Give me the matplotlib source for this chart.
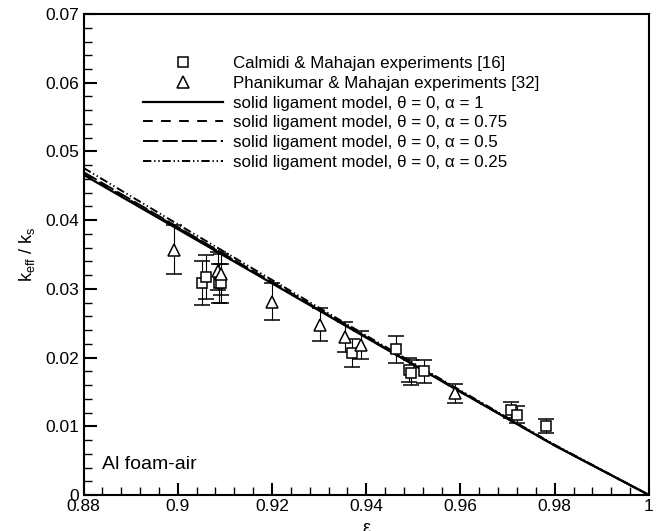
import matplotlib
matplotlib.use('Agg')
import matplotlib.pyplot as plt
from matplotlib.ticker import MultipleLocator
from matplotlib.lines import Line2D

plt.rcParams['font.family'] = ['Liberation Sans', 'DejaVu Sans']
plt.rcParams['lines.scale_dashes'] = False

# Calmidi & Mahajan experiments (squares)
cal_eps = [0.9052, 0.9061, 0.9087, 0.9092, 0.9369, 0.9463, 0.9491, 0.9494, 0.9522, 0.9708, 0.9720, 0.9782]
cal_k = [0.0308, 0.0317, 0.0308, 0.0308, 0.0207, 0.0212, 0.0182, 0.0178, 0.0180, 0.0124, 0.0117, 0.0100]
cal_err = [0.0032, 0.0032, 0.0028, 0.0028, 0.0020, 0.0020, 0.0018, 0.0018, 0.0017, 0.0012, 0.0012, 0.0010]

# Phanikumar & Mahajan experiments (triangles)
pha_eps = [0.8991, 0.9085, 0.9091, 0.9201, 0.9302, 0.9354, 0.9388, 0.9588]
pha_k = [0.0357, 0.0326, 0.0321, 0.0281, 0.0248, 0.0230, 0.0218, 0.0148]
pha_err = [0.0036, 0.0028, 0.0030, 0.0027, 0.0024, 0.0022, 0.0020, 0.0014]

# solid ligament model curves
model_eps = [0.88, 0.90, 0.92, 0.94, 0.96, 0.98, 1.0]
k_a100 = [0.0466, 0.0387, 0.0308, 0.0229, 0.0150, 0.0072, 0.0]
k_a075 = [0.0468, 0.0389, 0.0309, 0.0230, 0.0150, 0.0072, 0.0]
k_a050 = [0.0470, 0.0390, 0.0310, 0.0230, 0.0151, 0.0072, 0.0]
k_a025 = [0.0476, 0.0394, 0.0313, 0.0232, 0.0152, 0.0073, 0.0]

fig = plt.figure(figsize=(6.58, 5.31), dpi=100)
ax = fig.add_axes([0.1269, 0.0678, 0.8594, 0.9058])

mk = dict(mfc='white', mec='black', mew=1.1, ecolor='black', elinewidth=0.8,
          capsize=6, capthick=0.8)
ax.errorbar(cal_eps, cal_k, yerr=cal_err, fmt='s', ms=7, **mk)
ax.errorbar(pha_eps, pha_k, yerr=pha_err, fmt='^', ms=8, **mk)

l1, = ax.plot(model_eps, k_a100, color='black', lw=1.6)
l2, = ax.plot(model_eps, k_a075, color='black', lw=1.4, dashes=(7, 6))
l3, = ax.plot(model_eps, k_a050, color='black', lw=1.4, dashes=(11, 3))
l4, = ax.plot(model_eps, k_a025, color='black', lw=1.4, dashes=(6, 2, 1, 2, 1, 2))

ax.set_xlim(0.88, 1.0)
ax.set_ylim(0, 0.07)
ax.xaxis.set_major_locator(MultipleLocator(0.02))
ax.xaxis.set_minor_locator(MultipleLocator(0.004))
ax.yaxis.set_major_locator(MultipleLocator(0.01))
ax.yaxis.set_minor_locator(MultipleLocator(0.002))
fmt = plt.FuncFormatter(lambda v, p: '%g' % round(v, 4))
ax.xaxis.set_major_formatter(fmt)
ax.yaxis.set_major_formatter(fmt)
ax.tick_params(which='both', direction='in', top=False, right=False, labelsize=12.5)
ax.tick_params(which='major', length=9, width=1.5, pad=3)
ax.tick_params(which='minor', length=6, width=1)
for s in ax.spines.values():
    s.set_linewidth(1.5)

ax.set_xlabel('ε', fontsize=13, labelpad=4)
ax.set_ylabel('k$_\\mathregular{eff}$ / k$_\\mathregular{s}$', fontsize=13, labelpad=6)
ax.text(0.033, 0.055, 'Al foam-air', transform=ax.transAxes, fontsize=14)

h_cal = Line2D([], [], ls='none', marker='s', ms=7, mfc='white', mec='black', mew=1.1)
h_pha = Line2D([], [], ls='none', marker='^', ms=8, mfc='white', mec='black', mew=1.1)
handles = [h_cal, h_pha, l1, l2, l3, l4]
labels = ['Calmidi & Mahajan experiments [16]',
          'Phanikumar & Mahajan experiments [32]',
          'solid ligament model, θ = 0, α = 1',
          'solid ligament model, θ = 0, α = 0.75',
          'solid ligament model, θ = 0, α = 0.5',
          'solid ligament model, θ = 0, α = 0.25']
ax.legend(handles, labels, loc='upper left', bbox_to_anchor=(0.091, 0.93),
          frameon=False, fontsize=12.2, handlelength=4.7, handletextpad=0.6,
          labelspacing=0.28, borderpad=0, numpoints=1)

fig.savefig('out.png', dpi=100)
